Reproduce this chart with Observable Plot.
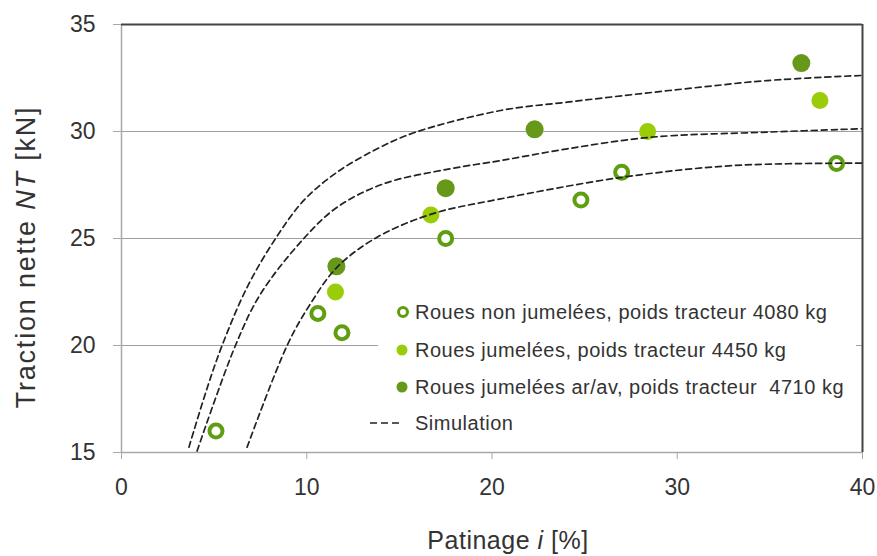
<!DOCTYPE html>
<html>
<head>
<meta charset="utf-8">
<script src="https://cdn.jsdelivr.net/npm/d3@7"></script>
<script src="https://cdn.jsdelivr.net/npm/@observablehq/plot@0.6"></script>
<style>
  html, body { margin: 0; padding: 0; background: #fff; }
  #wrap { position: relative; width: 877px; height: 556px; font-family: "Liberation Sans", Arial, sans-serif; color: #333; }
  #legend { position: absolute; left: 378px; top: 292px; width: 478px; height: 148px; background: #fff; }
  .item { position: absolute; left: 0; height: 24px; display: flex; align-items: center; font-size: 20px; letter-spacing: 0.5px; white-space: nowrap; }
  .item svg { overflow: visible; }
</style>
</head>
<body>
<div id="wrap"></div>
<script>
// ---- Data ----
const seriesNames = [
  "Roues non jumelées, poids tracteur 4080 kg",
  "Roues jumelées, poids tracteur 4450 kg",
  "Roues jumelées ar/av, poids tracteur  4710 kg",
  "Simulation"
];
const xTicks = [0, 10, 20, 30, 40];
const yTicks = [15, 20, 25, 30, 35];
const gridY = [20, 25, 30];

const s1_i  = [5.1, 10.6, 11.9, 17.5, 24.8, 27.0, 38.6];
const s1_nt = [16.0, 21.5, 20.6, 25.0, 26.8, 28.1, 28.5];
const s2_i  = [11.55, 16.7, 28.4, 37.7];
const s2_nt = [22.5, 26.1, 30.0, 31.45];
const s3_i  = [11.6, 17.5, 22.3, 36.7];
const s3_nt = [23.7, 27.35, 30.1, 33.2];

const simA_i  = [3.64, 4.62, 5.43, 6.78, 8.31, 9.84, 11.64, 13.8, 15.78, 20.46, 24.06, 27.65, 31.25, 34.85, 40];
const simA_nt = [15.25, 18.0, 20.0, 22.72, 24.99, 26.78, 28.1, 29.19, 29.94, 30.98, 31.37, 31.73, 32.07, 32.38, 32.62];
const simB_i  = [4.08, 6.15, 7.5, 9.84, 11.64, 14.16, 17.76, 20.46, 24.06, 28.56, 34.85, 40];
const simB_nt = [15.07, 20.0, 22.4, 25.0, 26.46, 27.56, 28.26, 28.64, 29.19, 29.73, 29.97, 30.13];
const simC_i  = [6.78, 8.94, 10.2, 11.64, 13.8, 16.77, 20.46, 27.02, 33.05, 40];
const simC_nt = [15.25, 20.0, 21.95, 23.66, 25.06, 26.15, 26.85, 27.86, 28.41, 28.52];

// ---- Build tables ----
const zip = (xs, ys) => xs.map((x, k) => ({i: x, nt: ys[k]}));
const s1 = zip(s1_i, s1_nt), s2 = zip(s2_i, s2_nt), s3 = zip(s3_i, s3_nt);
const sims = [
  ...zip(simA_i, simA_nt).map(d => ({...d, c: "A"})),
  ...zip(simB_i, simB_nt).map(d => ({...d, c: "B"})),
  ...zip(simC_i, simC_nt).map(d => ({...d, c: "C"}))
];

const cOpen = "#5f9e10", cLight = "#9bcc0a", cDark = "#66981a";

const chart = Plot.plot({
  width: 877, height: 556,
  marginLeft: 121, marginRight: 15, marginTop: 24, marginBottom: 104,
  x: {domain: [0, 40]},
  y: {domain: [15, 35]},
  style: {fontFamily: "'Liberation Sans', Arial, sans-serif", background: "white", color: "#333"},
  marks: [
    Plot.ruleY(gridY, {stroke: "#a0a0a0", strokeWidth: 1.2}),
    Plot.ruleY([15], {stroke: "#a8a8a8", strokeWidth: 1.5}),
    Plot.ruleX([0], {stroke: "#a8a8a8", strokeWidth: 1.5}),
    Plot.ruleY([35], {stroke: "#444", strokeWidth: 2}),
    Plot.ruleX([40], {stroke: "#444", strokeWidth: 2}),
    Plot.axisY({ticks: yTicks, tickSize: 8, tickPadding: 18, stroke: "#a8a8a8", fill: "#333", fontSize: 23, label: null}),
    Plot.axisX({ticks: xTicks, tickSize: 7, tickPadding: 19, stroke: "#a8a8a8", fill: "#333", fontSize: 23, label: null}),
    Plot.dot(s1, {x: "i", y: "nt", r: 6.5, stroke: cOpen, strokeWidth: 4, fill: "white"}),
    Plot.dot(s2, {x: "i", y: "nt", r: 8.5, fill: cLight}),
    Plot.dot(s3, {x: "i", y: "nt", r: 9, fill: cDark}),
    Plot.line(sims, {x: "i", y: "nt", z: "c", curve: "catmull-rom", stroke: "#222", strokeWidth: 1.7, strokeDasharray: "6,4", clip: true})
  ]
});

const wrap = document.getElementById("wrap");
wrap.appendChild(chart);

// Axis titles with italic parts
const svg = d3.select(chart);
const xt = svg.append("text")
  .attr("x", 508).attr("y", 549)
  .attr("text-anchor", "middle")
  .attr("font-size", 25).attr("fill", "#333").attr("letter-spacing", "0.5px");
xt.append("tspan").text("Patinage ");
xt.append("tspan").attr("font-style", "italic").text("i");
xt.append("tspan").text(" [%]");

const yt = svg.append("text")
  .attr("transform", "translate(35,257) rotate(-90)")
  .attr("text-anchor", "middle")
  .attr("font-size", 27).attr("fill", "#333").attr("letter-spacing", "1.8px");
yt.append("tspan").text("Traction nette ");
yt.append("tspan").attr("font-style", "italic").text("NT");
yt.append("tspan").text(" [kN]");

// Legend (inside plot area, white box)
const legend = document.createElement("div");
legend.id = "legend";
wrap.appendChild(legend);
const rowsY = [8, 46, 83, 119];
const markers = [
  `<svg width="20" height="20"><circle cx="25" cy="10" r="4.5" fill="white" stroke="${cOpen}" stroke-width="3"/></svg>`,
  `<svg width="20" height="20"><circle cx="24" cy="10" r="5.5" fill="${cLight}"/></svg>`,
  `<svg width="20" height="20"><circle cx="24" cy="10" r="5.5" fill="${cDark}"/></svg>`,
  `<svg width="20" height="20"><line x1="-8" x2="24" y1="10" y2="10" stroke="#222" stroke-width="1.5" stroke-dasharray="7,4"/></svg>`
];
seriesNames.forEach((name, k) => {
  const it = document.createElement("div");
  it.className = "item";
  it.style.top = rowsY[k] + "px";
  it.innerHTML = markers[k] + `<span style="margin-left:17px; white-space:pre">${name}</span>`;
  legend.appendChild(it);
});
</script>
</body>
</html>
